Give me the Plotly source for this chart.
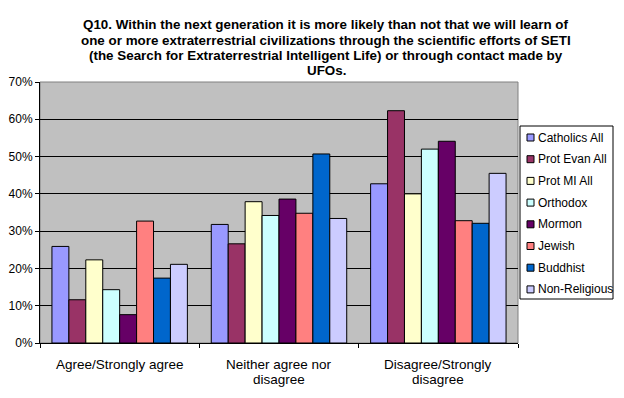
import plotly.graph_objects as go

categories = ["Agree/Strongly agree", "Neither agree nor<br>disagree", "Disagree/Strongly<br>disagree"]
series_names = ["Catholics All", "Prot Evan All", "Prot MI All", "Orthodox", "Mormon", "Jewish", "Buddhist", "Non-Religious"]
catholics = [25.9, 31.8, 42.7]
prot_evan = [11.6, 26.6, 62.3]
prot_mi = [22.3, 37.9, 40.0]
orthodox = [14.3, 34.2, 52.0]
mormon = [7.6, 38.6, 54.1]
jewish = [32.7, 34.8, 32.8]
buddhist = [17.4, 50.7, 32.1]
non_religious = [21.1, 33.4, 45.5]
series_values = [catholics, prot_evan, prot_mi, orthodox, mormon, jewish, buddhist, non_religious]
colors = ["#9999FF", "#993366", "#FFFFCC", "#CCFFFF", "#660066", "#FF8080", "#0066CC", "#CCCCFF"]
tick_vals = [0, 10, 20, 30, 40, 50, 60, 70]
tick_text = ["0%", "10%", "20%", "30%", "40%", "50%", "60%", "70%"]
title_lines = [
    "Q10. Within the next generation it is more likely than not that we will learn of",
    "one or more extraterrestrial civilizations through the scientific efforts of SETI",
    "(the Search for Extraterrestrial Intelligent Life) or through contact made by",
    "UFOs.",
]

# page body has an 8px margin; work in window pixel coordinates and shift
OFF = 8
W, H = 624 - OFF, 398 - OFF
L, R, T, B = 40 - OFF, 518 - OFF, 82 - OFF, 343 - OFF
FONT = "Arial, Liberation Sans, sans-serif"


def px_x(x):
    return (x - OFF - L) / (R - L)


def px_y(y):
    return (B - (y - OFF)) / (B - T)


fig = go.Figure()
for name, vals, col in zip(series_names, series_values, colors):
    fig.add_trace(go.Bar(
        x=categories, y=vals, name=name, showlegend=False,
        marker=dict(color=col, line=dict(color="black", width=1)),
    ))

fig.update_layout(
    width=W, height=H,
    paper_bgcolor="white",
    plot_bgcolor="#C0C0C0",
    font=dict(family=FONT, size=12, color="black"),
    margin=dict(l=L, r=W - R, t=T, b=H - B, autoexpand=False),
    barmode="group", bargap=0.15, bargroupgap=0,
    showlegend=False,
)
fig.update_yaxes(range=[0, 70], tickvals=tick_vals, ticktext=tick_text,
                 showgrid=True, gridcolor="black", gridwidth=1,
                 showline=True, linecolor="black", linewidth=1,
                 ticks="outside", ticklen=4, tickcolor="black",
                 tickfont=dict(size=12), zeroline=False)
fig.update_xaxes(showline=True, linecolor="black", linewidth=1,
                 ticks="outside", ticklen=4, tickcolor="black", tickson="boundaries",
                 showticklabels=False)
fig.add_shape(type="rect", xref="paper", yref="paper", x0=0, x1=1, y0=0, y1=1,
              line=dict(color="#808080", width=1), layer="below")

# category labels (placed on the category axis)
for cat in categories:
    for j, part in enumerate(cat.split("<br>")):
        fig.add_annotation(text=part, xref="x", yref="paper", x=cat,
                           y=px_y(364 + 15 * j), xanchor="center", yanchor="middle",
                           showarrow=False, font=dict(size=13.5, family=FONT, color="black"))

# title lines
for i, line in enumerate(title_lines):
    fig.add_annotation(text="<b>" + line + "</b>", xref="paper", yref="paper",
                       x=px_x(326), y=px_y(25 + i * 15.2), xanchor="center", yanchor="middle",
                       showarrow=False, font=dict(size=13.4, family=FONT, color="black"))

# custom legend
fig.add_shape(type="rect", xref="paper", yref="paper",
              x0=px_x(520), x1=px_x(613), y0=px_y(126), y1=px_y(299),
              line=dict(color="black", width=1), fillcolor="white")
for i, (name, col) in enumerate(zip(series_names, colors)):
    yc = 137.5 + i * 21.7
    fig.add_shape(type="rect", xref="paper", yref="paper",
                  x0=px_x(527), x1=px_x(534), y0=px_y(yc - 3.5), y1=px_y(yc + 3.5),
                  line=dict(color="black", width=1), fillcolor=col)
    fig.add_annotation(text=name, xref="paper", yref="paper",
                       x=px_x(536), y=px_y(yc), xanchor="left", yanchor="middle",
                       showarrow=False, font=dict(size=12, family=FONT, color="black"))

fig.write_html("out.html")
